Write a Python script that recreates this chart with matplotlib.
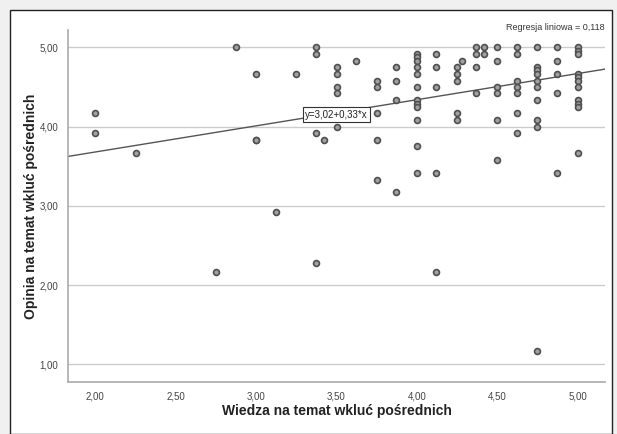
import numpy as np
import matplotlib
matplotlib.use("Agg")
import matplotlib.pyplot as plt
from matplotlib.patches import Rectangle

plt.rcParams['font.family'] = ['Liberation Sans', 'DejaVu Sans']

# wiedza (x) / opinia (y) for each respondent
wiedza = [2.0, 2.0,
          2.25,
          2.75,
          2.875,
          3.0, 3.0, 3.0,
          3.125,
          3.25,
          3.375, 3.375, 3.375, 3.375,
          3.42,
          3.5, 3.5, 3.5, 3.5, 3.5,
          3.62,
          3.75, 3.75, 3.75, 3.75, 3.75,
          3.87, 3.87, 3.87, 3.87,
          4.0, 4.0, 4.0, 4.0, 4.0, 4.0, 4.0, 4.0, 4.0, 4.0, 4.0, 4.0,
          4.12, 4.12, 4.12, 4.12, 4.12,
          4.25, 4.25, 4.25, 4.25, 4.25,
          4.28,
          4.37, 4.37, 4.37, 4.37,
          4.42, 4.42,
          4.5, 4.5, 4.5, 4.5, 4.5, 4.5,
          4.62, 4.62, 4.62, 4.62, 4.62, 4.62, 4.62,
          4.75, 4.75, 4.75, 4.75, 4.75, 4.75, 4.75, 4.75, 4.75, 4.75,
          4.87, 4.87, 4.87, 4.87, 4.87,
          5.0, 5.0, 5.0, 5.0, 5.0, 5.0, 5.0, 5.0, 5.0, 5.0, 5.0]
opinia = [4.17, 3.92,
          3.67,
          2.17,
          5.0,
          4.67, 3.83, 3.83,
          2.92,
          4.67,
          5.0, 4.92, 3.92, 2.28,
          3.83,
          4.75, 4.67, 4.5, 4.42, 4.0,
          4.83,
          4.58, 4.5, 4.17, 3.83, 3.33,
          4.75, 4.58, 4.33, 3.17,
          4.92, 4.88, 4.83, 4.75, 4.67, 4.5, 4.33, 4.29, 4.25, 4.08, 3.75, 3.42,
          4.92, 4.75, 4.5, 3.42, 2.17,
          4.75, 4.67, 4.58, 4.17, 4.08,
          4.83,
          5.0, 4.92, 4.75, 4.42,
          5.0, 4.92,
          5.0, 4.83, 4.5, 4.42, 4.08, 3.58,
          5.0, 4.92, 4.58, 4.5, 4.42, 4.17, 3.92,
          5.0, 4.75, 4.71, 4.67, 4.58, 4.5, 4.33, 4.08, 4.0, 1.17,
          5.0, 4.83, 4.67, 4.42, 3.42,
          5.0, 4.96, 4.92, 4.67, 4.63, 4.58, 4.5, 4.33, 4.29, 4.25, 3.67]

intercept = 3.02
slope = 0.33
r2_text = "Regresja liniowa = 0,118"
xticks = [2.0, 2.5, 3.0, 3.5, 4.0, 4.5, 5.0]
yticks = [1.0, 2.0, 3.0, 4.0, 5.0]


def pl(v):
    return "{:.2f}".format(v).replace(".", ",")


fig = plt.figure(figsize=(6.17, 4.34), dpi=100)
fig.patch.set_facecolor("#f0f0f0")
# white chart area with a thin dark frame, kept behind the axes
fig.patches.append(Rectangle((10 / 617, 0), 602 / 617, 1 - 10 / 434,
                             transform=fig.transFigure, facecolor="white",
                             edgecolor="#222222", linewidth=1.0, zorder=-5))

ax = fig.add_axes([68 / 617, 1 - 381.7 / 434, (605 - 68) / 617, (381.7 - 30) / 434])
ax.set_zorder(2)
ax.set_facecolor("none")
ax.set_xlim(1.83, 5.17)
ax.set_ylim(0.78, 5.22)

for yv in yticks:
    ax.axhline(yv, color="#cccccc", lw=1.0, zorder=1)

ax.scatter(wiedza, opinia, s=18, facecolor="#a0a0a0", edgecolor="#505050",
           linewidth=1.2, zorder=3)

xs = np.array(ax.get_xlim())
ax.plot(xs, intercept + slope * xs, color="#555555", lw=1.0, zorder=2)

ax.text(3.5, 4.15, "y={}+{}*x".format(pl(intercept), pl(slope)), fontsize=7,
        ha="center", va="center", color="#222222", zorder=4,
        bbox=dict(boxstyle="square,pad=0.25", facecolor="white",
                  edgecolor="#333333", linewidth=0.8))

fig.text(605 / 617, 1 - 28 / 434, r2_text, fontsize=6.5, ha="right",
         va="center", color="#333333")

ax.set_xticks(xticks)
ax.set_xticklabels([pl(v) for v in xticks])
ax.set_yticks(yticks)
ax.set_yticklabels([pl(v) for v in yticks])
ax.tick_params(length=0, labelsize=7, colors="#444444", pad=7)

for side in ["top", "right"]:
    ax.spines[side].set_visible(False)
for side in ["left", "bottom"]:
    ax.spines[side].set_color("#aaaaaa")
    ax.spines[side].set_linewidth(1.2)

ax.set_xlabel("Wiedza na temat wkluć pośrednich", fontsize=10,
              fontweight="bold", color="#222222", labelpad=2)
ax.set_ylabel("Opinia na temat wkluć pośrednich", fontsize=10,
              fontweight="bold", color="#222222", labelpad=1)

fig.savefig("out.png", dpi=100, facecolor=fig.get_facecolor())
